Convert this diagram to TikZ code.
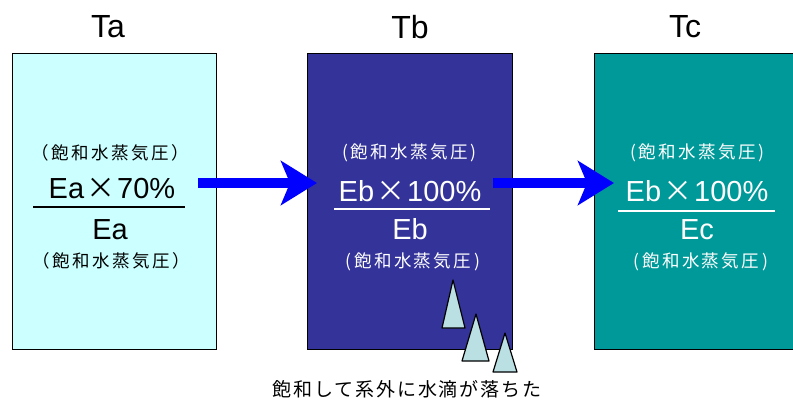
\documentclass[tikz,border=0pt]{standalone}
\usepackage{fontspec}
\setmainfont{Liberation Sans}
\newfontfamily\jp{Noto Sans CJK JP}
\usetikzlibrary{arrows.meta}
\definecolor{cyanbox}{HTML}{CCFFFF}
\definecolor{navybox}{HTML}{333399}
\definecolor{tealbox}{HTML}{009999}
\definecolor{drop}{HTML}{BBE0E3}
\definecolor{arrowblue}{HTML}{0000FF}
\tikzset{
  box/.style={draw=black, line width=1.2pt, anchor=north west, inner sep=0pt},
  title/.style={font=\fontsize{32}{34}\selectfont, inner sep=0pt},
  paren/.style={font=\jp\fontsize{17.5}{19}\selectfont\addfontfeature{LetterSpace=14}, inner sep=0pt},
  big/.style={font=\fontsize{29}{31}\selectfont, inner sep=0pt},
  flow/.style={line width=10pt, arrowblue, -{Stealth[length=36pt,width=44pt,inset=9pt]}},
  droplet/.style={fill=drop, draw=black, line width=1.2pt, line join=round},
  fracline/.style={line width=1.4pt}
}
\newcommand{\tms}{\hspace{2pt}{\jp ×}\hspace{2pt}}
\begin{document}
\begin{tikzpicture}[x=1pt,y=-1pt]
\clip (0,0) rectangle (793,400);
% boxes
\node[box, fill=cyanbox, minimum width=204pt, minimum height=296pt] (ta) at (12,53) {};
\node[box, fill=navybox, minimum width=205pt, minimum height=296pt] (tb) at (307,53) {};
\node[box, fill=tealbox, minimum width=215pt, minimum height=296pt] (tc) at (594,53) {};
% titles
\node[title] (lta) at (108,27) {Ta};
\node[title] (ltb) at (410,27) {Tb};
\node[title] (ltc) at (685,27) {Tc};
% Ta text
\node[paren] (pa1) at (110,153) {（飽和水蒸気圧）};
\node[big] (na) at (112,189) {Ea\tms70\%};
\draw[fracline, black] (33,207) -- (185,207);
\node[big] (da) at (110,230) {Ea};
\node[paren] (pa2) at (111,261) {（飽和水蒸気圧）};
% Tb text
\node[paren, text=white] (pb1) at (409,153) {(飽和水蒸気圧)};
\node[big, text=white] (nb) at (410,191) {Eb\tms100\%};
\draw[fracline, white] (334,209) -- (490,209);
\node[big, text=white] (db) at (410,229) {Eb};
\node[paren, text=white] (pb2) at (413,262) {(飽和水蒸気圧\,)};
% Tc text
\node[paren, text=white] (pc1) at (697,153) {(飽和水蒸気圧)};
\node[big, text=white] (nc) at (697,191) {Eb\tms100\%};
\draw[fracline, white] (618,211) -- (775,211);
\node[big, text=white] (dc) at (697,230) {Ec};
\node[paren, text=white] (pc2) at (701,262) {(飽和水蒸気圧\,)};
% arrows
\coordinate (a1s) at (198,183);
\coordinate (a1e) at (317,183);
\coordinate (a2s) at (493,183);
\coordinate (a2e) at (614,183);
\draw[flow] (a1s) -- (a1e);
\draw[flow] (a2s) -- (a2e);
% droplets
\draw[droplet] (453,280) -- (465,328) -- (442,328) -- cycle;
\draw[droplet] (476,314) -- (489,361) -- (462,361) -- cycle;
\draw[droplet] (505,333) -- (517,372) -- (493,372) -- cycle;
% caption
\node[font=\jp\fontsize{19}{21}\selectfont\addfontfeature{LetterSpace=10}, inner sep=0pt] (cap) at (407,389) {飽和して系外に水滴が落ちた};
\end{tikzpicture}
\end{document}
